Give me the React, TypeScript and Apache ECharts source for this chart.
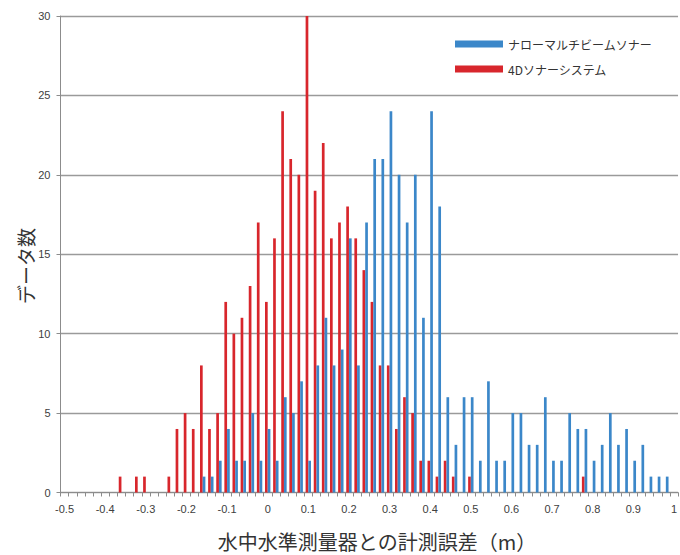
import React, { useEffect, useRef } from "react";
import * as echarts from "echarts";

const categories = [
  -0.5, -0.48, -0.46, -0.44, -0.42, -0.4, -0.38, -0.36, -0.34, -0.32,
  -0.3, -0.28, -0.26, -0.24, -0.22, -0.2, -0.18, -0.16, -0.14, -0.12,
  -0.1, -0.08, -0.06, -0.04, -0.02, 0, 0.02, 0.04, 0.06, 0.08,
  0.1, 0.12, 0.14, 0.16, 0.18, 0.2, 0.22, 0.24, 0.26, 0.28,
  0.3, 0.32, 0.34, 0.36, 0.38, 0.4, 0.42, 0.44, 0.46, 0.48,
  0.5, 0.52, 0.54, 0.56, 0.58, 0.6, 0.62, 0.64, 0.66, 0.68,
  0.7, 0.72, 0.74, 0.76, 0.78, 0.8, 0.82, 0.84, 0.86, 0.88,
  0.9, 0.92, 0.94, 0.96, 0.98, 1.0,
];

const sonar4D = [
  0, 0, 0, 0, 0, 0, 0, 1, 0, 1,
  1, 0, 0, 1, 4, 5, 4, 8, 4, 5,
  12, 10, 11, 13, 17, 12, 16, 24, 21, 20,
  30, 19, 22, 16, 17, 18, 16, 14, 12, 8,
  8, 4, 6, 5, 2, 2, 1, 2, 1, 0,
  1, 0, 0, 0, 0, 0, 0, 0, 0, 0,
  0, 0, 0, 0, 1, 0, 0, 0, 0, 0,
  0, 0, 0, 0, 0, 0,
];

const narrowMultibeam = [
  0, 0, 0, 0, 0, 0, 0, 0, 0, 0,
  0, 0, 0, 0, 0, 0, 0, 1, 1, 2,
  4, 2, 2, 5, 2, 4, 2, 6, 5, 7,
  2, 8, 11, 8, 9, 16, 8, 17, 21, 21,
  24, 20, 17, 20, 11, 24, 18, 6, 3, 6,
  6, 2, 7, 2, 2, 5, 5, 3, 3, 6,
  2, 2, 5, 4, 4, 2, 3, 5, 3, 4,
  2, 3, 1, 1, 1, 0,
];

const seriesNames = ["ナローマルチビームソナー", "4Dソナーシステム"];
const yTicks = { min: 0, max: 30, interval: 5 };
const xTitle = "水中水準測量器との計測誤差（m）";
const yTitle = "データ数";

const BLUE = "#3b87c9";
const RED = "#d8262c";
const FONT = "'Liberation Sans', 'Noto Sans CJK JP', sans-serif";
const JP = "'Noto Sans CJK JP', sans-serif";

export default function App() {
  const ref = useRef<HTMLDivElement>(null);

  useEffect(() => {
    if (!ref.current) return;
    const chart = echarts.init(ref.current, undefined, { renderer: "svg" });
    chart.setOption({
      animation: false,
      backgroundColor: "#ffffff",
      grid: { left: 60.5, right: -2, top: 16, bottom: 62.5, containLabel: false },
      legend: {
        orient: "vertical",
        left: 450,
        top: 33,
        data: [seriesNames[0], seriesNames[1]],
        icon: "rect",
        itemWidth: 48,
        itemHeight: 7,
        itemGap: 13,
        textStyle: { fontFamily: JP, fontSize: 12, color: "#333" },
      },
      xAxis: {
        type: "category",
        data: categories.map((c) => String(c)),
        boundaryGap: true,
        axisLine: { show: true, lineStyle: { color: "#8c8c8c", width: 1 } },
        axisTick: {
          show: true,
          interval: 0,
          alignWithLabel: false,
          length: 4,
          lineStyle: { color: "#8c8c8c" },
        },
        axisLabel: {
          interval: 4,
          margin: 11,
          fontFamily: FONT,
          fontSize: 11,
          color: "#404040",
          formatter: (v: string) => String(Number(v)),
        },
        splitLine: { show: false },
      },
      yAxis: {
        type: "value",
        min: yTicks.min,
        max: yTicks.max,
        interval: yTicks.interval,
        axisLine: { show: true, lineStyle: { color: "#8c8c8c", width: 1 } },
        axisTick: { show: true, length: 4, lineStyle: { color: "#8c8c8c" } },
        axisLabel: {
          margin: 10,
          fontFamily: FONT,
          fontSize: 11,
          color: "#404040",
        },
        splitLine: { show: true, lineStyle: { color: "#9a9a9a", width: 1.3 } },
      },
      graphic: [
        {
          type: "text",
          x: 377,
          y: 541,
          style: {
            text: xTitle,
            x: 0,
            y: 0,
            align: "center",
            verticalAlign: "middle",
            fontFamily: JP,
            fontSize: 20,
            lineHeight: 20,
            fill: "#333",
          },
        },
        {
          type: "text",
          x: 25,
          y: 266,
          rotation: Math.PI / 2,
          style: {
            text: yTitle,
            x: 0,
            y: 0,
            align: "center",
            verticalAlign: "middle",
            fontFamily: JP,
            fontSize: 19,
            lineHeight: 19,
            fill: "#333",
          },
        },
      ],
      series: [
        {
          name: seriesNames[1],
          type: "bar",
          data: sonar4D,
          barWidth: 2.7,
          barGap: "0%",
          itemStyle: { color: RED },
        },
        {
          name: seriesNames[0],
          type: "bar",
          data: narrowMultibeam,
          barWidth: 2.7,
          barGap: "0%",
          itemStyle: { color: BLUE },
        },
      ],
    });
    return () => chart.dispose();
  }, []);

  return (
    <div
      ref={ref}
      style={{ position: "fixed", left: 0, top: 0, width: 680, height: 555, background: "#fff" }}
    />
  );
}
